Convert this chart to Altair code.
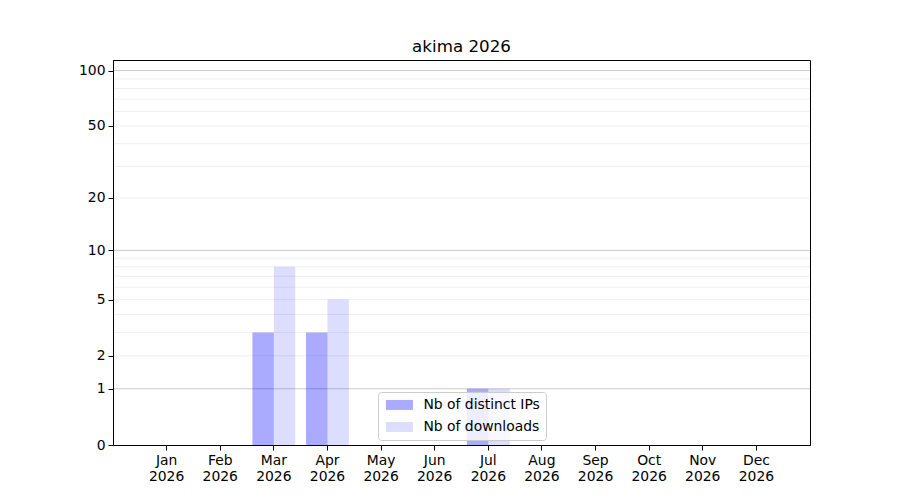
import pandas as pd
import altair as alt

months = ["Jan 2026", "Feb 2026", "Mar 2026", "Apr 2026", "May 2026", "Jun 2026",
          "Jul 2026", "Aug 2026", "Sep 2026", "Oct 2026", "Nov 2026", "Dec 2026"]
distinct_ips = [0, 0, 3, 3, 0, 0, 1, 0, 0, 0, 0, 0]
downloads = [0, 0, 8, 5, 0, 0, 1, 0, 0, 0, 0, 0]
series = ["Nb of distinct IPs", "Nb of downloads"]
y_ticks = [0, 1, 2, 5, 10, 20, 50, 100]
major_grid = [1, 10, 100]
minor_grid = [2, 3, 4, 5, 6, 7, 8, 9, 20, 30, 40, 50, 60, 70, 80, 90]

df = pd.DataFrame({"month": months, series[0]: distinct_ips, series[1]: downloads})
long_df = df.melt(id_vars="month", var_name="series", value_name="count")

font = "DejaVu Sans"
y_scale = alt.Scale(type="symlog", constant=1, domain=[0, 114], nice=False)

minor = alt.Chart(pd.DataFrame({"v": minor_grid})).mark_rule(
    color="#ebebeb", strokeWidth=0.8
).encode(y=alt.Y("v:Q", scale=y_scale))

major = alt.Chart(pd.DataFrame({"v": major_grid})).mark_rule(
    color="#cccccc", strokeWidth=1
).encode(y=alt.Y("v:Q", scale=y_scale))

bars = alt.Chart(long_df).mark_bar().encode(
    x=alt.X("month:N", sort=months,
            scale=alt.Scale(paddingInner=0.2, paddingOuter=0.6),
            axis=alt.Axis(title=None, labelAngle=0, labelExpr="split(datum.label, ' ')",
                          labelFont=font, labelFontSize=13.9, labelColor="black",
                          labelLineHeight=16, labelPadding=3,
                          tickColor="black", tickSize=5, domainColor="black",
                          grid=False, zindex=1)),
    xOffset=alt.XOffset("series:N", sort=series,
                        scale=alt.Scale(paddingInner=0, paddingOuter=0)),
    y=alt.Y("count:Q", scale=y_scale,
            axis=alt.Axis(title=None, values=y_ticks, grid=False,
                          labelFont=font, labelFontSize=13.9, labelColor="black",
                          labelPadding=3, tickColor="black", tickSize=5,
                          domainColor="black", zindex=1)),
    color=alt.Color("series:N", sort=series,
                    scale=alt.Scale(domain=series,
                                    range=["rgba(0,0,255,0.333)", "rgba(0,0,255,0.133)"]),
                    legend=alt.Legend(title=None, orient="none", legendX=265, legendY=332,
                                      labelFont=font, labelFontSize=13.9, labelColor="black",
                                      symbolType="M-2.7,-1L2.7,-1L2.7,1L-2.7,1Z",
                                      symbolSize=100, symbolStrokeWidth=0,
                                      symbolOffset=8.5,
                                      labelOffset=17, rowPadding=7, padding=6,
                                      fillColor="rgba(255,255,255,0.8)",
                                      strokeColor="#cccccc", cornerRadius=3)),
)

chart = (minor + major + bars).properties(
    width=697,
    height=385,
    title=alt.TitleParams("akima 2026", font=font, fontSize=16.7, fontWeight="normal",
                          color="black", baseline="alphabetic", offset=-9),
    autosize=alt.AutoSizeParams(type="none"),
    padding={"left": 105, "top": 52, "right": 82, "bottom": 47},
).configure_view(stroke="black", strokeWidth=1)

chart.save("out.html", embed_options={"renderer": "svg", "actions": False})
